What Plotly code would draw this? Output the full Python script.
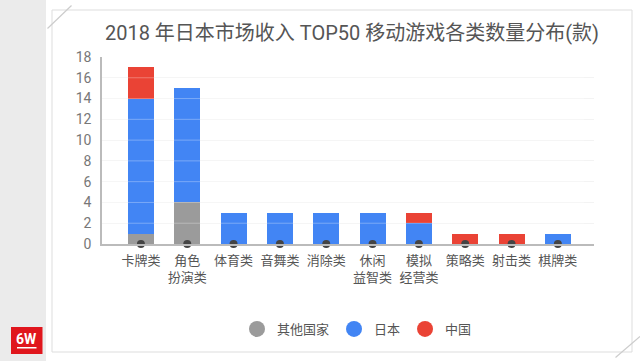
import plotly.graph_objects as go

categories = ["卡牌类", "角色<br>扮演类", "体育类", "音舞类", "消除类", "休闲<br>益智类",
              "模拟<br>经营类", "策略类", "射击类", "棋牌类"]
other_vals = [1, 4, 0, 0, 0, 0, 0, 0, 0, 0]
japan_vals = [13, 11, 3, 3, 3, 3, 2, 0, 0, 1]
china_vals = [3, 0, 0, 0, 0, 0, 1, 1, 1, 0]
series_names = ["其他国家", "日本", "中国"]
series_colors = ["#9b9b9b", "#4285f4", "#ea4335"]
y_ticks = [0, 2, 4, 6, 8, 10, 12, 14, 16, 18]
title_text = "2018 年日本市场收入 TOP50 移动游戏各类数量分布(款)"

W, H = 640, 361
L, R, T, B = 102, 46, 57, 117
pw, ph = W - L - R, H - T - B


def px(x):
    return (x - L) / pw


def py(y):
    return (H - B - y) / ph


font_cjk = "Roboto, Noto Sans CJK SC, sans-serif"

fig = go.Figure()
for name, vals, col in zip(series_names, [other_vals, japan_vals, china_vals], series_colors):
    fig.add_trace(go.Bar(x=categories, y=vals, name=name, marker=dict(color=col, line=dict(width=0)),
                         width=0.56, showlegend=False, hoverinfo="x+y+name"))

fig.add_trace(go.Scatter(x=categories, y=[0] * len(categories), mode="markers",
                         marker=dict(color="#444444", size=8), showlegend=False,
                         cliponaxis=False, hoverinfo="skip"))

for name, col in zip(series_names, series_colors):
    fig.add_trace(go.Scatter(x=[None], y=[None], mode="markers", name=name,
                             marker=dict(color=col, size=16, symbol="circle")))

shapes = []
# left gray band
shapes.append(dict(type="rect", xref="paper", yref="paper", x0=px(0), x1=px(46), y0=py(H + 2), y1=py(-2),
                   fillcolor="#ebebeb", line=dict(width=0), layer="below"))
# card border
shapes.append(dict(type="rect", xref="paper", yref="paper", x0=px(52), x1=px(632), y0=py(352), y1=py(10),
                   fillcolor="white", line=dict(color="#dddddd", width=1), layer="below"))
# decorative slanted lines
shapes.append(dict(type="line", xref="paper", yref="paper", x0=px(47.5), y0=py(28.5), x1=px(71.5), y1=py(5.5),
                   line=dict(color="#cccccc", width=1.2)))
shapes.append(dict(type="line", xref="paper", yref="paper", x0=px(615.5), y0=py(357.5), x1=px(640), y1=py(336.5),
                   line=dict(color="#cccccc", width=1.2)))
# gridlines over the bars
for t in y_ticks[1:-1]:
    shapes.append(dict(type="line", xref="paper", yref="y", x0=0, x1=0.98, y0=t, y1=t,
                       line=dict(color="rgba(255,255,255,0.3)", width=1), layer="above"))
# logo
shapes.append(dict(type="rect", xref="paper", yref="paper", x0=px(11), x1=px(42.5), y0=py(354), y1=py(327),
                   fillcolor="#e0161d", line=dict(width=0)))
shapes.append(dict(type="rect", xref="paper", yref="paper", x0=px(17), x1=px(36.5), y0=py(348.5), y1=py(347),
                   fillcolor="white", line=dict(width=0)))

annotations = [
    dict(text="6W", xref="paper", yref="paper", x=px(26.8), y=py(338.5), showarrow=False,
         font=dict(family="Roboto, sans-serif", size=14, color="white", weight="bold"),
         xanchor="center", yanchor="middle"),
]

fig.update_layout(
    width=W, height=H,
    margin=dict(l=L, r=R, t=T, b=B),
    paper_bgcolor="white", plot_bgcolor="rgba(0,0,0,0)",
    barmode="stack", bargap=0.44,
    title=dict(text=title_text, x=352 / W, xanchor="center", y=1 - 33 / H, yanchor="middle",
               font=dict(family=font_cjk, size=20, color="#555555")),
    xaxis=dict(range=[-0.84, 9.78], showline=True, linecolor="#bbbbbb", linewidth=1.5,
               tickfont=dict(family=font_cjk, size=13, color="#555555"), ticks="",
               showgrid=False, fixedrange=True, ticklabelstandoff=4),
    yaxis=dict(range=[0, 18], tickvals=y_ticks, showline=True, linecolor="#bbbbbb", linewidth=1.5,
               gridcolor="#f3f3f3", gridwidth=1, zeroline=False, ticks="",
               tickfont=dict(family=font_cjk, size=14, color="#777777"), ticklabelstandoff=6),
    legend=dict(orientation="h", x=px(357), xanchor="center", y=py(329), yanchor="middle",
                font=dict(family=font_cjk, size=13, color="#555555"), bgcolor="rgba(0,0,0,0)",
                itemclick=False, traceorder="normal"),
    shapes=shapes,
    annotations=annotations,
    showlegend=True,
)

fig.write_html("out.html", config={"displayModeBar": False},
               post_script="document.body.style.margin='0';document.body.style.overflow='hidden';")
